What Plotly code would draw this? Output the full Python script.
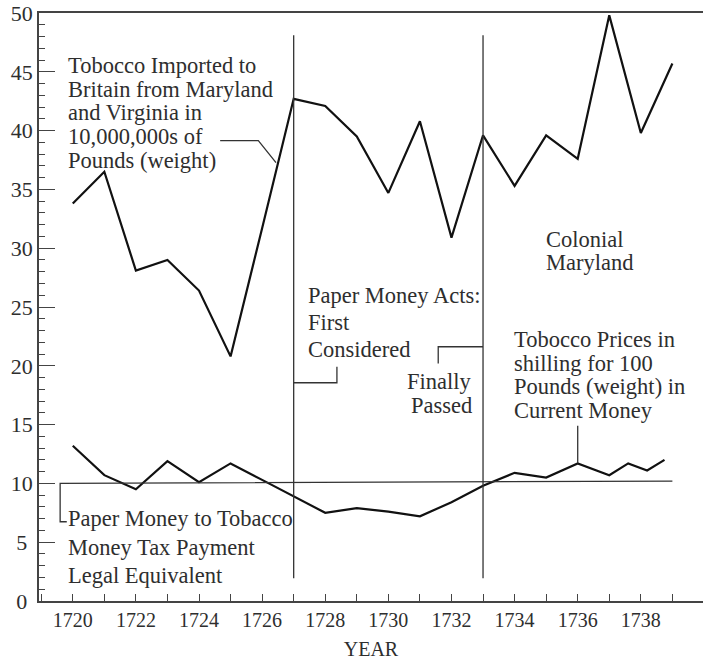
import plotly.graph_objects as go

# ---- data ----
years = list(range(1720, 1740))
tobacco_imported = [33.8, 36.5, 28.1, 29.0, 26.4, 20.8, 31.7, 42.7, 42.1, 39.5,
                    34.7, 40.8, 30.9, 39.6, 35.3, 39.6, 37.6, 49.8, 39.8, 45.7]

price_years = list(range(1720, 1737)) + [1737, 1737.6, 1738.2, 1738.75]
tobacco_prices = [13.2, 10.7, 9.5, 11.9, 10.1, 11.7, 10.3, 8.9, 7.5, 7.9,
                  7.6, 7.2, 8.4, 9.8, 10.9, 10.5, 11.7, 10.7, 11.7, 11.1, 12.0]

legal_years = [1719.6, 1739]
legal_equivalent = [10.0, 10.2]

act_years = [1727, 1733]          # Paper Money Acts: first considered, finally passed
act_span = [1.93, 48.1]

x_tick_vals = list(range(1720, 1740, 2))
y_tick_vals = list(range(0, 51, 5))
# single-digit labels padded so that labels sit centred like the original
y_tick_text = [str(v) if v >= 10 else str(v) + "\u2008" for v in y_tick_vals]

FONT = "Liberation Serif, Times New Roman, serif"
TXT = "#2e2e2e"
LINE = "#111111"
THIN = "#333333"

fig = go.Figure()

fig.add_trace(go.Scatter(x=years, y=tobacco_imported, mode="lines",
                         line=dict(color=LINE, width=2.2), hoverinfo="skip"))
fig.add_trace(go.Scatter(x=price_years, y=tobacco_prices, mode="lines",
                         line=dict(color=LINE, width=2.2), hoverinfo="skip"))
# legal equivalent line with bracket at left end
fig.add_trace(go.Scatter(x=[1719.81, legal_years[0], legal_years[0], legal_years[1]],
                         y=[6.74, 6.74, legal_equivalent[0], legal_equivalent[1]],
                         mode="lines", line=dict(color=THIN, width=1.3), hoverinfo="skip"))
for yr in act_years:
    fig.add_trace(go.Scatter(x=[yr, yr], y=act_span, mode="lines",
                             line=dict(color=THIN, width=1.3), hoverinfo="skip"))

# leader lines
leaders = [
    ([act_years[0], 1728.37, 1728.37], [18.56, 18.56, 19.92]),
    ([act_years[1], 1731.58, 1731.58], [21.62, 21.62, 20.2]),
    ([1724.67, 1725.88, 1726.44], [39.14, 39.14, 37.27]),
    ([1736, 1736], [14.9, 11.71]),
]
for lx, ly in leaders:
    fig.add_trace(go.Scatter(x=lx, y=ly, mode="lines",
                             line=dict(color=THIN, width=1.3), hoverinfo="skip"))

# text blocks
blocks = [
    (1719.81, "left", ["Tobocco Imported to", "Britain from Maryland", "and Virginia in",
                       "10,000,000s of", "Pounds (weight)"],
     [45.55, 43.51, 41.53, 39.52, 37.42]),
    (1734.96, "left", ["Colonial", "Maryland"], [30.76, 28.78]),
    (1727.41, "left", ["Paper Money Acts:", "First", "Considered"], [25.94, 23.67, 21.40]),
    (1732.69, "right", ["Finally", "Passed"], [18.63, 16.64]),
    (1733.94, "left", ["Tobocco Prices in", "shilling for 100", "Pounds (weight) in",
                       "Current Money"], [22.25, 20.21, 18.23, 16.17]),
    (1719.83, "left", ["Paper Money to Tobacco", "Money Tax Payment", "Legal Equivalent"],
     [7.01, 4.54, 2.19]),
]
for bx, anchor, lines, ys in blocks:
    for t, yy in zip(lines, ys):
        fig.add_annotation(x=bx, y=yy, text=t, showarrow=False, xanchor=anchor,
                           yanchor="middle", borderpad=0,
                           font=dict(family=FONT, size=22.5, color=TXT))

fig.update_layout(
    width=703, height=668,
    margin=dict(l=39, r=0, t=13, b=67, autoexpand=False),
    paper_bgcolor="white", plot_bgcolor="white",
    showlegend=False,
    font=dict(family=FONT, size=20, color=TXT),
    xaxis=dict(range=[1718.93, 1739.97], showgrid=False, zeroline=False, automargin=False,
               showline=True, linecolor="#444444", linewidth=1.5, mirror=True,
               tickmode="array", tickvals=x_tick_vals,
               ticks="inside", ticklen=7, tickwidth=1.2, tickcolor="#444444",
               minor=dict(dtick=1, tick0=1720, ticks="inside", ticklen=7,
                          tickwidth=1.2, tickcolor="#444444"),
               tickfont=dict(family=FONT, size=20, color=TXT),
               title=dict(text="YEAR", font=dict(family=FONT, size=20, color=TXT),
                          standoff=12)),
    yaxis=dict(range=[0, 50], showgrid=False, zeroline=False, automargin=False,
               showline=True, linecolor="#444444", linewidth=1.5,
               tickmode="array", tickvals=y_tick_vals, ticktext=y_tick_text,
               ticks="inside", ticklen=16, tickwidth=1.2, tickcolor="#444444",
               minor=dict(dtick=1, tick0=0, ticks="inside", ticklen=6,
                          tickwidth=1.2, tickcolor="#444444"),
               tickfont=dict(family=FONT, size=22, color=TXT)),
)

fig.write_html("out.html", config={"displayModeBar": False},
               post_script="document.body.style.margin='0';document.body.style.overflow='hidden';")
